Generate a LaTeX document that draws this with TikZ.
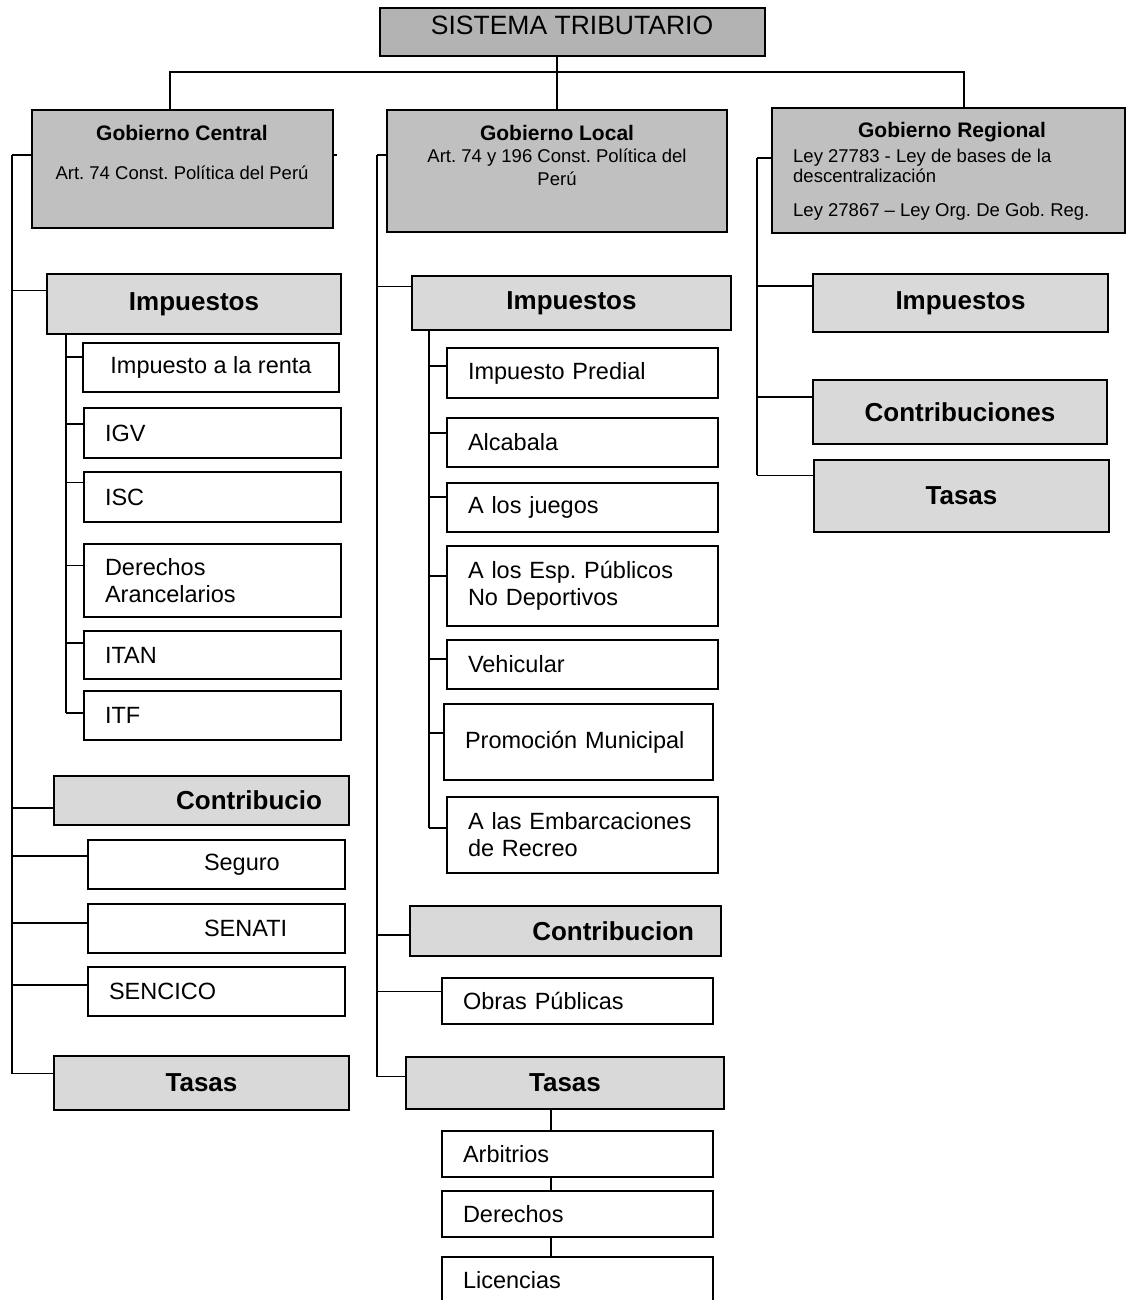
\documentclass[tikz,border=0pt]{standalone}
\usepackage{fontspec}
\setmainfont{Liberation Sans}
\usetikzlibrary{calc}
\frenchspacing
\definecolor{topfill}{HTML}{B3B3B3}
\definecolor{govfill}{HTML}{C0C0C0}
\definecolor{hdrfill}{HTML}{D9D9D9}
\tikzset{
  box/.style={draw=black, line width=1.4pt, inner xsep=0pt, inner ysep=0pt, fill=white,
    font=\fontsize{23.5}{27}\selectfont},
  itembox/.style={box},
  hdrbox/.style={box, fill=hdrfill, font=\fontsize{26}{30}\selectfont\bfseries},
  govbox/.style={box, fill=govfill},
  topbox/.style={box, fill=topfill},
  lft/.style={align=left, text width=\btwl pt},
  rgt/.style={align=right, text width=\btwr pt},
  ctr/.style={align=center},
  govtitle/.style={inner sep=0pt, font=\fontsize{21}{24}\selectfont\bfseries},
  govsmall/.style={inner sep=0pt, font=\fontsize{18.5}{22}\selectfont},
  toptext/.style={inner sep=0pt, font=\fontsize{26.5}{30}\selectfont},
  conn/.style={draw=black, line width=1.7pt}
}
\newcommand\bx[6][]{%
  \pgfmathsetmacro\bw{#5-#3}\pgfmathsetmacro\bh{#6-#4}%
  \pgfmathsetmacro\bcx{(#3+#5)/2}\pgfmathsetmacro\bcy{(#4+#6)/2}%
  \pgfmathsetmacro\btwl{\bw-42}\pgfmathsetmacro\btwr{\bw-54}%
  \node[box, minimum width=\bw pt, minimum height=\bh pt, #1] (#2) at (\bcx,\bcy)}
\newcommand\stub[4]{%
  \path ($(#2.north west)!#3!(#2.south west)$) coordinate (#4a);
  \draw[conn] (#4a) -- (#4a -| #1) coordinate (#4);}
\begin{document}
\begin{tikzpicture}[x=1pt,y=-1pt]
\fill[white] (0,0) rectangle (1126,1300);
\useasboundingbox (0,0) rectangle (1126,1300);

% ---- top ----
\bx[topbox]{T}{380}{8}{765}{56} {};
\node[toptext] (Tt) at (572,25) {SISTEMA TRIBUTARIO};

% ---- government boxes ----
\bx[govbox]{C}{32}{110}{333}{228} {};
\node[govtitle] (Ct) at (182,133) {Gobierno Central};
\node[govsmall] (Cs) at (182,173) {Art. 74 Const. Política del Perú};

\bx[govbox]{L}{387}{110}{727}{232} {};
\node[govtitle] (Lt) at (557,133) {Gobierno Local};
\node[govsmall, align=center, font=\fontsize{18.5}{23}\selectfont] (Ls) at (557,167) {Art. 74 y 196 Const. Política del\\Perú};

\bx[govbox]{R}{772}{108}{1125}{233} {};
\node[govtitle] (Rt) at (952,132) {Gobierno Regional};
\node[govsmall, anchor=west, align=left, font=\fontsize{18.5}{20.5}\selectfont] (Rs1) at (793,166) {Ley 27783 - Ley de bases de la\\descentralización};
\node[govsmall, anchor=west] (Rs2) at (793,212) {Ley 27867 – Ley Org. De Gob. Reg.};

% ---- top connectors ----
\coordinate (jC) at (170,72);
\coordinate (jR) at (964,72);
\draw[conn] (L.north) -- (L.north |- T.south);
\draw[conn] (jC |- C.north) -- (jC) -- (jR) -- (jR |- R.north);

% ---- Central column ----
\bx[hdrbox,ctr]{CI}{47}{274}{341}{334} {Impuestos};
\bx[itembox,ctr]{renta}{83}{343}{339}{392} {Impuesto a la renta};
\bx[itembox,lft]{igv}{84}{408}{341}{458} {IGV};
\bx[itembox,lft]{isc}{84}{472}{341}{522} {ISC};
\bx[itembox,lft]{dar}{84}{544}{341}{617} {Derechos\\Arancelarios};
\bx[itembox,lft]{itan}{84}{631}{341}{679} {ITAN};
\bx[itembox,lft]{itf}{84}{691}{341}{740} {ITF};
\bx[hdrbox,rgt]{CC}{54}{776}{349}{825} {Contribucio};
\bx[itembox,lft]{seg}{88}{840}{345}{889} {\hspace*{95pt}Seguro};
\bx[itembox,lft]{senati}{88}{904}{345}{953} {\hspace*{95pt}SENATI};
\bx[itembox,lft]{sencico}{88}{967}{345}{1016} {SENCICO};
\bx[hdrbox,ctr]{CT}{54}{1056}{349}{1110} {Tasas};

\coordinate (spC) at (12,0);
\stub{spC}{C}{0.38}{sC0}
\stub{spC}{CI}{0.28}{sC1}
\stub{spC}{CC}{0.65}{sC2}
\stub{spC}{seg}{0.33}{sC3}
\stub{spC}{senati}{0.39}{sC4}
\stub{spC}{sencico}{0.37}{sC5}
\stub{spC}{CT}{0.33}{sC6}
\draw[conn] (sC0) -- (sC6);
\draw[conn] ($(C.north east)!0.38!(C.south east)$) coordinate (Ce) -- ++(3,0);

\coordinate (spI) at (66,0);
\stub{spI}{renta}{0.29}{sI1}
\stub{spI}{igv}{0.32}{sI2}
\stub{spI}{isc}{0.22}{sI3}
\stub{spI}{dar}{0.30}{sI4}
\stub{spI}{itan}{0.25}{sI5}
\stub{spI}{itf}{0.45}{sI6}
\draw[conn] (CI.south -| spI) -- (sI6);

% ---- Local column ----
\bx[hdrbox,ctr]{LI}{412}{276}{731}{330} {Impuestos};
\bx[itembox,lft]{pred}{447}{348}{718}{398} {Impuesto Predial};
\bx[itembox,lft]{alc}{447}{418}{718}{467} {Alcabala};
\bx[itembox,lft]{jue}{447}{483}{718}{532} {A los juegos};
\bx[itembox,lft]{esp}{447}{546}{718}{626} {A los Esp. Públicos\\No Deportivos};
\bx[itembox,lft]{veh}{447}{640}{718}{689} {Vehicular};
\bx[itembox,lft]{prom}{444}{704}{713}{780} {Promoción Municipal};
\bx[itembox,lft]{emb}{447}{797}{718}{873} {A las Embarcaciones\\de Recreo};
\bx[hdrbox,rgt]{LC}{410}{906}{721}{956} {Contribucion};
\bx[itembox,lft]{obras}{442}{978}{713}{1024} {Obras Públicas};
\bx[hdrbox,ctr]{LT}{406}{1057}{724}{1109} {Tasas};
\bx[itembox,lft]{arb}{442}{1131}{713}{1177} {Arbitrios};
\bx[itembox,lft]{der}{442}{1191}{713}{1237} {Derechos};
\bx[itembox,lft]{lic}{442}{1257}{713}{1303} {Licencias};

\coordinate (spL) at (377,0);
\stub{spL}{L}{0.37}{sL0}
\stub{spL}{LI}{0.20}{sL1}
\stub{spL}{LC}{0.58}{sL2}
\stub{spL}{obras}{0.30}{sL3}
\stub{spL}{LT}{0.38}{sL4}
\draw[conn] (sL0) -- (sL4);

\coordinate (spM) at (429,0);
\stub{spM}{pred}{0.36}{sM1}
\stub{spM}{alc}{0.31}{sM2}
\stub{spM}{jue}{0.29}{sM3}
\stub{spM}{esp}{0.375}{sM4}
\stub{spM}{veh}{0.39}{sM5}
\stub{spM}{prom}{0.38}{sM6}
\stub{spM}{emb}{0.41}{sM7}
\draw[conn] (LI.south -| spM) -- (sM7);

\coordinate (tc) at (551,0);
\draw[conn] (LT.south -| tc) -- (arb.north -| tc);
\draw[conn] (arb.south -| tc) -- (der.north -| tc);
\draw[conn] (der.south -| tc) -- (lic.north -| tc);

% ---- Regional column ----
\bx[hdrbox,ctr]{RI}{813}{274}{1108}{332} {Impuestos};
\bx[hdrbox,ctr]{RC}{813}{380}{1107}{444} {Contribuciones};
\bx[hdrbox,ctr]{RT}{814}{460}{1109}{532} {Tasas};

\coordinate (spR) at (757,0);
\stub{spR}{R}{0.40}{sR0}
\stub{spR}{RI}{0.21}{sR1}
\stub{spR}{RC}{0.27}{sR2}
\stub{spR}{RT}{0.22}{sR3}
\draw[conn] (sR0) -- (sR3);
\end{tikzpicture}
\end{document}
